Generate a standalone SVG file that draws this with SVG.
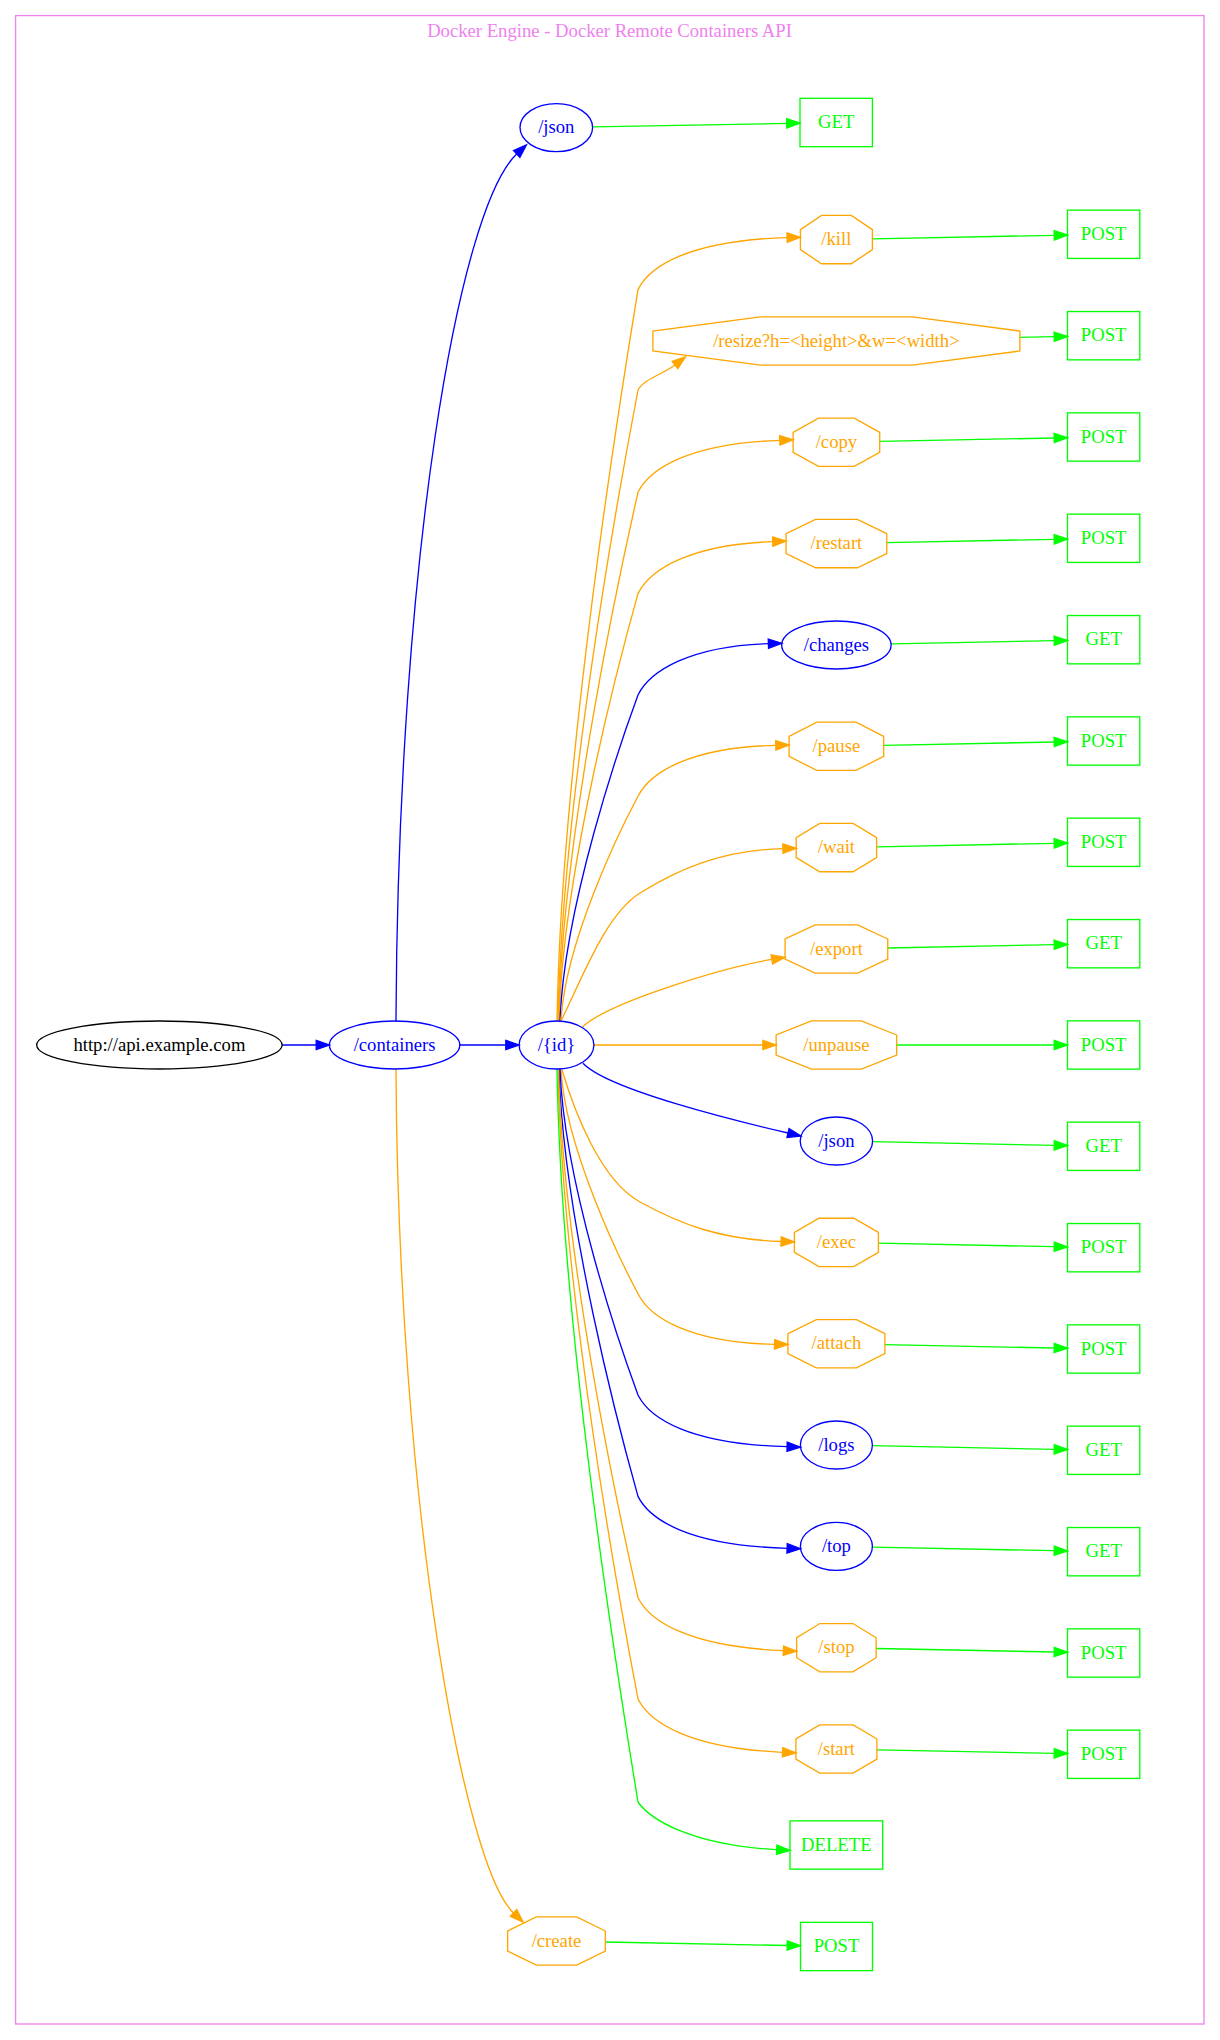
<svg xmlns="http://www.w3.org/2000/svg" width="1220" height="2040" viewBox="0 0 1220 2040">
  <style>
    .lbl { font-family: "Liberation Serif", "Times New Roman", serif; font-size: 18.67px; text-anchor: middle; }
    .shape { fill: none; stroke-width: 1.33; }
    .blue { stroke: #0000ff; }
    .orange { stroke: #ffa500; }
    .green { stroke: #00ff00; }
    .black { stroke: #000000; }
    .tblue { fill: #0000ff; }
    .torange { fill: #ffa500; }
    .tgreen { fill: #00ff00; }
    .tblack { fill: #000000; }
    .edge { fill: none; stroke-width: 1.33; }
    .eb { stroke: #0000ff; marker-end: url(#arrow-blue); }
    .eo { stroke: #ffa500; marker-end: url(#arrow-orange); }
    .eg { stroke: #00ff00; marker-end: url(#arrow-green); }
  </style>
  <defs>
    <marker id="arrow-blue" viewBox="0 -6 16 12" markerWidth="16" markerHeight="12" refX="0" refY="0" orient="auto" markerUnits="userSpaceOnUse" overflow="visible">
      <path d="M0,-4.67 L13.33,0 L0,4.67 Z" fill="#0000ff" stroke="#0000ff" stroke-width="1.33"/>
    </marker>
    <marker id="arrow-orange" viewBox="0 -6 16 12" markerWidth="16" markerHeight="12" refX="0" refY="0" orient="auto" markerUnits="userSpaceOnUse" overflow="visible">
      <path d="M0,-4.67 L13.33,0 L0,4.67 Z" fill="#ffa500" stroke="#ffa500" stroke-width="1.33"/>
    </marker>
    <marker id="arrow-green" viewBox="0 -6 16 12" markerWidth="16" markerHeight="12" refX="0" refY="0" orient="auto" markerUnits="userSpaceOnUse" overflow="visible">
      <path d="M0,-4.67 L13.33,0 L0,4.67 Z" fill="#00ff00" stroke="#00ff00" stroke-width="1.33"/>
    </marker>
  </defs>

  <rect x="0" y="0" width="1220" height="2040" fill="#ffffff"/>

  <!-- cluster frame and title -->
  <g id="cluster_api">
    <rect x="15.6" y="15.6" width="1188.4" height="2008.4" fill="none" stroke="#ee82ee" stroke-width="1.33"/>
    <text class="lbl" x="609.5" y="37.3" fill="#ee82ee">Docker Engine - Docker Remote Containers API</text>
  </g>

  <!-- connectors -->
  <g id="edges">
    <path class="edge eb" d="M282.1,1045 L316.2,1045"/>
    <path class="edge eb" d="M459.8,1045 L505.8,1045"/>
    <path class="edge eb" d="M396,1021 C398,560 458.6,208.4 516.7,154"/>
    <path class="edge eo" d="M396,1069 C398,1500 463,1865 513.5,1913"/>

    <!-- /{id} upward -->
    <path class="edge eo" d="M557,1021 C561,765 620,399.3 638,289.6 C650,265.6 690,240.6 787.1,237.6"/>
    <path class="edge eo" d="M558,1021 C562,800.2 620,484.7 638,390 C644,379 664,373.5 675,365"/>
    <path class="edge eo" d="M558.5,1021 C562.5,836 620,571.6 638,492.3 C650,468.3 690,443.3 779.8,440.3"/>
    <path class="edge eo" d="M559,1021 C563,871.4 620,657.7 638,593.6 C650,569.6 690,544.6 772.75,541.6"/>
    <path class="edge eb" d="M560,1021 C564,906.9 620,743.9 638,695 C650,671 690,646 768.4,643.7"/>
    <path class="edge eo" d="M561,1021 C565,942.4 620,830 638,796.3 C650,772.3 690,747.3 775.8,745.3"/>
    <path class="edge eo" d="M561,1021 C582,979 605,915 640,893 C675,871 720,850 782.9,848.6"/>
    <path class="edge eo" d="M582.6,1026.7 C610,1002 722.7,967.6 771.9,959.4"/>
    <path class="edge eo" d="M594,1045 L762.85,1045"/>

    <!-- /{id} downward -->
    <path class="edge eb" d="M583,1063.3 C608,1090 739.3,1121.8 788,1133"/>
    <path class="edge eo" d="M562,1070 C574,1110 600,1180 640,1202 C680,1224 720,1239.5 781.1,1241.5"/>
    <path class="edge eo" d="M561,1069 C565,1147.6 620,1260 638,1293.7 C650,1317.7 690,1342.7 774.6,1344.3"/>
    <path class="edge eb" d="M560,1069 C564,1183.1 620,1346.1 638,1395 C650,1419 690,1444 787.1,1446.7"/>
    <path class="edge eb" d="M559,1069 C563,1218.6 620,1432.3 638,1496.4 C650,1520.4 690,1545.4 787.1,1548.3"/>
    <path class="edge eo" d="M558.5,1069 C562.5,1254 620,1518.4 638,1597.7 C650,1621.7 690,1646.7 783.35,1650.7"/>
    <path class="edge eo" d="M558,1069 C562,1289.5 620,1604.5 638,1699 C650,1723 690,1748 782.6,1752.3"/>
    <path class="edge eg" d="M557,1069 C561,1325.6 620,1692 638,1802 C650,1819 690,1845 776.7,1849.7"/>

    <!-- endpoints to methods -->
    <path class="edge eg" d="M592.7,126.9 L786.7,123.4"/>
    <path class="edge eg" d="M872.4,238.9 L1054.2,235.3"/>
    <path class="edge eg" d="M1019.9,337.4 L1054.2,336.7"/>
    <path class="edge eg" d="M879.7,441.4 L1054.2,438"/>
    <path class="edge eg" d="M886.75,542.6 L1054.2,539.3"/>
    <path class="edge eg" d="M891.1,643.9 L1054.2,640.7"/>
    <path class="edge eg" d="M883.7,745.4 L1054.2,742"/>
    <path class="edge eg" d="M876.6,846.8 L1054.2,843.3"/>
    <path class="edge eg" d="M887.75,948 L1054.2,944.7"/>
    <path class="edge eg" d="M896.65,1045 L1054.2,1045"/>
    <path class="edge eg" d="M872.6,1141.7 L1054.2,1145.3"/>
    <path class="edge eg" d="M878.4,1243.2 L1054.2,1246.7"/>
    <path class="edge eg" d="M884.9,1344.7 L1054.2,1348"/>
    <path class="edge eg" d="M872.4,1445.7 L1054.2,1449.3"/>
    <path class="edge eg" d="M872.4,1547.1 L1054.2,1550.7"/>
    <path class="edge eg" d="M876.15,1648.5 L1054.2,1652"/>
    <path class="edge eg" d="M876.9,1749.8 L1054.2,1753.3"/>
    <path class="edge eg" d="M605.35,1942 L787.2,1945.5"/>
  </g>

  <!-- nodes -->
  <g id="node_root">
    <ellipse class="shape black" cx="159.4" cy="1045" rx="122.7" ry="24"/>
    <text class="lbl tblack" x="159.4" y="1050.6">http://api.example.com</text>
  </g>
  <g id="node_containers">
    <ellipse class="shape blue" cx="394.6" cy="1045" rx="65.2" ry="24"/>
    <text class="lbl tblue" x="394.6" y="1050.6">/containers</text>
  </g>
  <g id="node_id">
    <ellipse class="shape blue" cx="556.5" cy="1045" rx="37.4" ry="24"/>
    <text class="lbl tblue" x="556.5" y="1050.6">/{id}</text>
  </g>
  <g id="node_containers_json">
    <ellipse class="shape blue" cx="556.3" cy="127.6" rx="36.3" ry="24"/>
    <text class="lbl tblue" x="556.3" y="133.2">/json</text>
  </g>
  <g id="node_containers_json_get">
    <rect class="shape green" x="800" y="98.3" width="72.4" height="48.4"/>
    <text class="lbl tgreen" x="836.2" y="128.1">GET</text>
  </g>

  <g id="node_kill">
    <polygon class="shape orange" points="872.4,229.6 851.3,215.45 821.5,215.45 800.4,229.6 800.4,249.6 821.5,263.75 851.3,263.75 872.4,249.6"/>
    <text class="lbl torange" x="836.4" y="245.2">/kill</text>
  </g>
  <g id="node_kill_post">
    <rect class="shape green" x="1067.5" y="210.15" width="72.3" height="48.3"/>
    <text class="lbl tgreen" x="1103.65" y="239.9">POST</text>
  </g>

  <g id="node_resize">
    <polygon class="shape orange" points="1019.9,331 912.4,316.85 760.4,316.85 652.9,331 652.9,351 760.4,365.15 912.4,365.15 1019.9,351"/>
    <text class="lbl torange" x="836.4" y="346.6">/resize?h=&lt;height&gt;&amp;w=&lt;width&gt;</text>
  </g>
  <g id="node_resize_post">
    <rect class="shape green" x="1067.5" y="311.55" width="72.3" height="48.3"/>
    <text class="lbl tgreen" x="1103.65" y="341.3">POST</text>
  </g>

  <g id="node_copy">
    <polygon class="shape orange" points="879.7,432.3 854.3,418.15 818.5,418.15 793.1,432.3 793.1,452.3 818.5,466.45 854.3,466.45 879.7,452.3"/>
    <text class="lbl torange" x="836.4" y="447.9">/copy</text>
  </g>
  <g id="node_copy_post">
    <rect class="shape green" x="1067.5" y="412.85" width="72.3" height="48.3"/>
    <text class="lbl tgreen" x="1103.65" y="442.6">POST</text>
  </g>

  <g id="node_restart">
    <polygon class="shape orange" points="886.75,533.6 857.3,519.45 815.5,519.45 786.05,533.6 786.05,553.6 815.5,567.75 857.3,567.75 886.75,553.6"/>
    <text class="lbl torange" x="836.4" y="549.2">/restart</text>
  </g>
  <g id="node_restart_post">
    <rect class="shape green" x="1067.5" y="514.15" width="72.3" height="48.3"/>
    <text class="lbl tgreen" x="1103.65" y="543.9">POST</text>
  </g>

  <g id="node_changes">
    <ellipse class="shape blue" cx="836.4" cy="645" rx="54.7" ry="24"/>
    <text class="lbl tblue" x="836.4" y="650.6">/changes</text>
  </g>
  <g id="node_changes_get">
    <rect class="shape green" x="1067.5" y="615.55" width="72.3" height="48.3"/>
    <text class="lbl tgreen" x="1103.65" y="645.3">GET</text>
  </g>

  <g id="node_pause">
    <polygon class="shape orange" points="883.7,736.3 856,722.15 816.8,722.15 789.1,736.3 789.1,756.3 816.8,770.45 856,770.45 883.7,756.3"/>
    <text class="lbl torange" x="836.4" y="751.9">/pause</text>
  </g>
  <g id="node_pause_post">
    <rect class="shape green" x="1067.5" y="716.85" width="72.3" height="48.3"/>
    <text class="lbl tgreen" x="1103.65" y="746.6">POST</text>
  </g>

  <g id="node_wait">
    <polygon class="shape orange" points="876.6,837.6 853.05,823.45 819.75,823.45 796.2,837.6 796.2,857.6 819.75,871.75 853.05,871.75 876.6,857.6"/>
    <text class="lbl torange" x="836.4" y="853.2">/wait</text>
  </g>
  <g id="node_wait_post">
    <rect class="shape green" x="1067.5" y="818.15" width="72.3" height="48.3"/>
    <text class="lbl tgreen" x="1103.65" y="847.9">POST</text>
  </g>

  <g id="node_export">
    <polygon class="shape orange" points="887.75,939 857.7,924.85 815.1,924.85 785.05,939 785.05,959 815.1,973.15 857.7,973.15 887.75,959"/>
    <text class="lbl torange" x="836.4" y="954.6">/export</text>
  </g>
  <g id="node_export_get">
    <rect class="shape green" x="1067.5" y="919.55" width="72.3" height="48.3"/>
    <text class="lbl tgreen" x="1103.65" y="949.3">GET</text>
  </g>

  <g id="node_unpause">
    <polygon class="shape orange" points="896.65,1035 861.4,1020.85 811.4,1020.85 776.15,1035 776.15,1055 811.4,1069.15 861.4,1069.15 896.65,1055"/>
    <text class="lbl torange" x="836.4" y="1050.6">/unpause</text>
  </g>
  <g id="node_unpause_post">
    <rect class="shape green" x="1067.5" y="1020.85" width="72.3" height="48.3"/>
    <text class="lbl tgreen" x="1103.65" y="1050.6">POST</text>
  </g>

  <g id="node_json">
    <ellipse class="shape blue" cx="836.4" cy="1141" rx="36.2" ry="24"/>
    <text class="lbl tblue" x="836.4" y="1146.6">/json</text>
  </g>
  <g id="node_json_get">
    <rect class="shape green" x="1067.5" y="1122.15" width="72.3" height="48.3"/>
    <text class="lbl tgreen" x="1103.65" y="1151.9">GET</text>
  </g>

  <g id="node_exec">
    <polygon class="shape orange" points="878.4,1232.4 853.8,1218.25 819,1218.25 794.4,1232.4 794.4,1252.4 819,1266.55 853.8,1266.55 878.4,1252.4"/>
    <text class="lbl torange" x="836.4" y="1248">/exec</text>
  </g>
  <g id="node_exec_post">
    <rect class="shape green" x="1067.5" y="1223.55" width="72.3" height="48.3"/>
    <text class="lbl tgreen" x="1103.65" y="1253.3">POST</text>
  </g>

  <g id="node_attach">
    <polygon class="shape orange" points="884.9,1333.7 856.5,1319.55 816.3,1319.55 787.9,1333.7 787.9,1353.7 816.3,1367.85 856.5,1367.85 884.9,1353.7"/>
    <text class="lbl torange" x="836.4" y="1349.3">/attach</text>
  </g>
  <g id="node_attach_post">
    <rect class="shape green" x="1067.5" y="1324.85" width="72.3" height="48.3"/>
    <text class="lbl tgreen" x="1103.65" y="1354.6">POST</text>
  </g>

  <g id="node_logs">
    <ellipse class="shape blue" cx="836.4" cy="1445" rx="36" ry="24"/>
    <text class="lbl tblue" x="836.4" y="1450.6">/logs</text>
  </g>
  <g id="node_logs_get">
    <rect class="shape green" x="1067.5" y="1426.15" width="72.3" height="48.3"/>
    <text class="lbl tgreen" x="1103.65" y="1455.9">GET</text>
  </g>

  <g id="node_top">
    <ellipse class="shape blue" cx="836.4" cy="1546.4" rx="36" ry="24"/>
    <text class="lbl tblue" x="836.4" y="1552">/top</text>
  </g>
  <g id="node_top_get">
    <rect class="shape green" x="1067.5" y="1527.55" width="72.3" height="48.3"/>
    <text class="lbl tgreen" x="1103.65" y="1557.3">GET</text>
  </g>

  <g id="node_stop">
    <polygon class="shape orange" points="876.15,1637.7 852.9,1623.55 819.9,1623.55 796.65,1637.7 796.65,1657.7 819.9,1671.85 852.9,1671.85 876.15,1657.7"/>
    <text class="lbl torange" x="836.4" y="1653.3">/stop</text>
  </g>
  <g id="node_stop_post">
    <rect class="shape green" x="1067.5" y="1628.85" width="72.3" height="48.3"/>
    <text class="lbl tgreen" x="1103.65" y="1658.6">POST</text>
  </g>

  <g id="node_start">
    <polygon class="shape orange" points="876.9,1739 853.2,1724.85 819.6,1724.85 795.9,1739 795.9,1759 819.6,1773.15 853.2,1773.15 876.9,1759"/>
    <text class="lbl torange" x="836.4" y="1754.6">/start</text>
  </g>
  <g id="node_start_post">
    <rect class="shape green" x="1067.5" y="1730.15" width="72.3" height="48.3"/>
    <text class="lbl tgreen" x="1103.65" y="1759.9">POST</text>
  </g>

  <g id="node_delete">
    <rect class="shape green" x="790" y="1820.85" width="92.7" height="48.3"/>
    <text class="lbl tgreen" x="836.35" y="1850.6">DELETE</text>
  </g>

  <g id="node_create">
    <polygon class="shape orange" points="605.35,1931 576.7,1916.85 536.3,1916.85 507.65,1931 507.65,1951 536.3,1965.15 576.7,1965.15 605.35,1951"/>
    <text class="lbl torange" x="556.5" y="1946.6">/create</text>
  </g>
  <g id="node_create_post">
    <rect class="shape green" x="800.5" y="1922.35" width="72" height="48.3"/>
    <text class="lbl tgreen" x="836.5" y="1952.1">POST</text>
  </g>
</svg>
